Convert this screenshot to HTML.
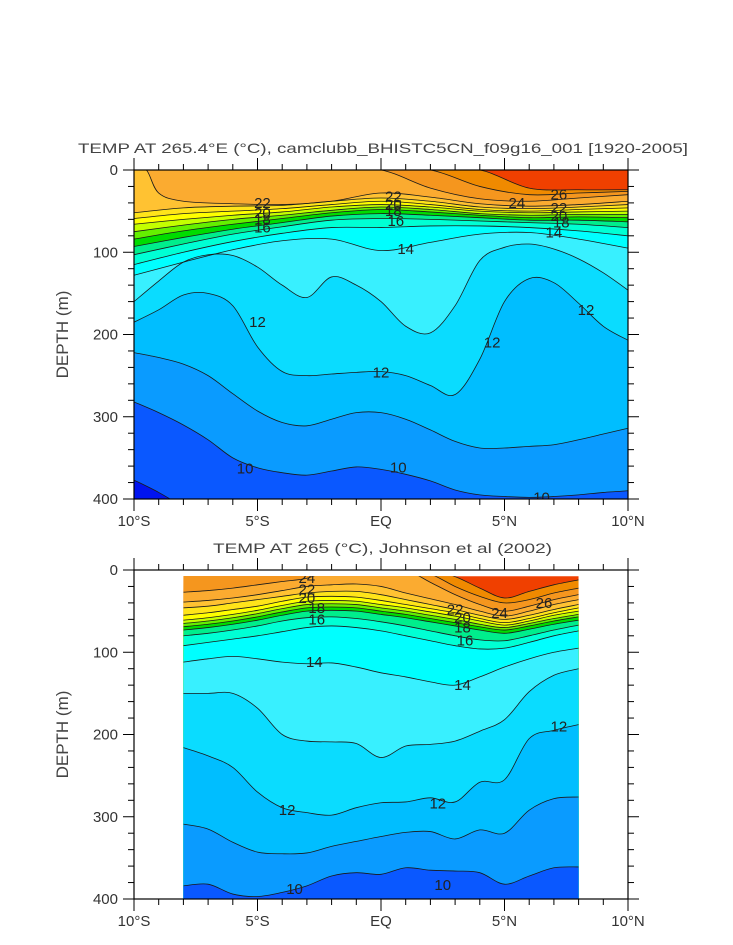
<!DOCTYPE html>
<html><head><meta charset="utf-8"><style>
html,body{margin:0;padding:0;background:#fff;}
svg{display:block;}
text{font-family:"Liberation Sans",sans-serif;}
</style></head><body>
<svg id="chart" width="733" height="945" viewBox="0 0 733 945" xmlns="http://www.w3.org/2000/svg">
<rect x="0" y="0" width="733" height="945" fill="#fff"/>
<g id="root"></g>
</svg>
<script>
// ---------- DATA ----------
const latsCoarse = [-10,-8,-6,-4,-2,0,2,4,6,8,10];
const latsFine = [-10,-9,-8,-7,-6,-5,-4,-3,-2,-1,0,1,2,3,4,5,6,7,8,9,10];
const latsT23 = [-10,-9.5,-9,-8,-6,-4,-2,0,2,4,6,8,10];
const latsObs = [-8,-7,-6,-5,-4,-3,-2,-1,0,1,2,3,4,5,6,7,8];

// Model panel isotherm depths (m)
const topT26 = [0,0,0,0,0,0,0,0,22,24,24];
const topT25 = [0,0,0,0,0,0,0,20,30,28,26];
const topT24 = [0,0,0,0,0,0,22,35,38,34,30];
const topT23 = [0,0,28,38,41,42,38,28,33,41,44,42,38];
const topT22 = [52,46,44,43,38,34,38,45,47,45,42];
const topT21 = [59,53,50,47,42,38,42,48,50,48,46];
const topT20 = [66,60,55,51,45,42,45,50,52,51,50];
const topT19 = [75,67,60,55,49,45,48,53,55,54,54];
const topT18 = [84,74,66,59,52,48,51,55,58,57,58];
const topT17 = [93,82,72,64,56,53,55,58,61,61,63];
const topT16 = [103,90,78,69,61,59,60,62,64,66,70];
const topT15 = [115,100,87,77,70,70,68,68,70,74,80];
const topT14 = [128,112,97,86,84,98,88,78,76,84,95];
const topT13 = [160,135,112,103,104,118,140,155,130,140,160,190,198,165,110,94,90,96,108,125,146];
const topT12 = [185,170,152,150,165,215,245,250,248,246,245,250,262,273,230,160,132,137,162,190,207];
const topT11 = [222,228,236,250,272,293,307,311,303,295,295,303,316,330,338,338,336,334,328,321,314];
const topT10 = [282,295,310,328,350,362,368,371,366,361,364,370,378,389,395,397,398,397,395,392,390];
const topT9 = [377,392,410,430,450,450,450,450,450,450,450,450,450,450,450,450,450,450,450,450,450];

// Observed panel isotherm depths (m)
const obsT26 = [0,0,0,0,0,0,0,0,0,0,0,8,22,34,26,18,12];
const obsT25 = [0,0,0,0,0,0,0,0,0,0,5,20,32,40,36,28,22];
const obsT24 = [27,25,22,18,14,10,0,0,0,0,15,30,42,50,44,36,30];
const obsT23 = [39,37,34,30,25,20,18,17,20,28,35,42,50,56,50,42,36];
const obsT22 = [46,44,40,36,32,28,26,26,30,36,42,48,55,60,55,48,42];
const obsT21 = [55,52,48,44,38,33,32,33,37,42,47,52,59,64,59,52,46];
const obsT20 = [61,58,54,49,43,38,37,38,42,46,51,56,62,67,62,55,50];
const obsT19 = [65,62,58,53,47,42,41,42,46,50,55,60,66,70,65,59,54];
const obsT18 = [69,66,62,57,51,46,45,46,50,54,59,64,69,73,68,62,57];
const obsT17 = [73,70,66,61,55,50,49,50,54,58,63,68,73,77,72,66,61];
const obsT16 = [80,77,73,68,62,58,57,59,63,68,74,80,85,86,80,73,67];
const obsT15 = [92,88,84,80,75,70,68,70,74,80,86,92,96,95,88,80,74];
const obsT14 = [112,108,105,108,112,114,113,118,125,130,136,140,130,118,108,100,95];
const obsT13 = [150,150,150,168,200,208,209,211,228,214,212,208,196,182,148,128,120];
const obsT12 = [216,226,240,270,289,295,298,289,283,282,277,282,258,255,205,195,188];
const obsT11 = [309,315,331,343,345,344,336,330,324,319,318,327,316,320,292,278,276];
const obsT10 = [384,382,394,397,392,384,372,368,370,362,365,366,368,382,372,362,361];

const topTemps = [26,25,24,23,22,21,20,19,18,17,16,15,14,13,12,11,10,9];
const obsTemps = [26,25,24,23,22,21,20,19,18,17,16,15,14,13,12,11,10];

// contour label positions [lat, depth, text]
const topLabelLats = [-4.8,-4.8,-4.8,-4.8,0.5,0.5,0.5,0.6,1.0,5.5,7.2,7.2,7.2,7.3,7.0,-5.0,0,4.5,8.3,-5.5,0.7,6.5];
const topLabelDeps = [40,52,60,70,32,42,50,62,96,40,30,46,56,64,76,185,246,210,170,363,362,398];
const topLabelTxt = ['22','20','18','16','22','20','18','16','14','24','26','22','20','18','14','12','12','12','12','10','10','10'];
const obsLabelLats = [-3.0,-3.0,-3.0,-2.6,-2.6,-2.7,3.0,3.3,3.3,3.4,4.8,6.6,-3.8,2.3,7.2,-3.5,2.5,3.3];
const obsLabelDeps = [10,24,34,46,60,112,48,58,70,86,52,40,292,284,190,388,383,140];
const obsLabelTxt = ['24','22','20','18','16','14','22','20','18','16','24','26','12','12','12','10','10','14'];

// ---------- COLORS / SCALES ----------
const bandColor = {26:'#f04000',25:'#f08a00',24:'#f5961e',23:'#fbab30',22:'#ffc232',21:'#ffe41a',20:'#ffff00',19:'#c4ff00',18:'#64f000',17:'#00dc00',16:'#00ee8c',15:'#00ffd4',14:'#00ffff',13:'#38f0ff',12:'#0adcff',11:'#00beff',10:'#0a9bff',9:'#0a58ff',8:'#0014f0'};

const NS='http://www.w3.org/2000/svg';
const root=document.getElementById('root');
function mk(tag,attrs,parent){const e=document.createElementNS(NS,tag);for(const k in attrs)e.setAttribute(k,attrs[k]);(parent||root).appendChild(e);return e;}

function makePanel(top){
  const x0=134,x1=628;
  return {x:lat=>x0+(lat+10)*(x1-x0)/20, y:d=>top+d*(329/400), x0:x0,x1:x1,y0:top,y1:top+329};
}
const P1=makePanel(170), P2=makePanel(570);

function crPath(pts){
  let d='M'+pts[0][0].toFixed(2)+','+pts[0][1].toFixed(2);
  for(let i=0;i<pts.length-1;i++){
    const p0=pts[Math.max(i-1,0)],p1=pts[i],p2=pts[i+1],p3=pts[Math.min(i+2,pts.length-1)];
    const c1x=p1[0]+(p2[0]-p0[0])/6,c1y=p1[1]+(p2[1]-p0[1])/6;
    const c2x=p2[0]-(p3[0]-p1[0])/6,c2y=p2[1]-(p3[1]-p1[1])/6;
    d+=' C'+c1x.toFixed(2)+','+c1y.toFixed(2)+' '+c2x.toFixed(2)+','+c2y.toFixed(2)+' '+p2[0].toFixed(2)+','+p2[1].toFixed(2);
  }
  return d;
}

function drawContours(P,clipId,cx0,cx1,cy0,isoList,temps,labelLats,labelDeps,labelTxt,prefix){
  const defs=mk('defs',{});
  const cp=mk('clipPath',{id:clipId},defs);
  mk('rect',{x:cx0,y:cy0,width:cx1-cx0,height:P.y1-cy0},cp);
  const g=mk('g',{'clip-path':'url(#'+clipId+')'});
  
  
  const bg=mk('rect',{x:cx0,y:cy0,width:cx1-cx0,height:P.y1-cy0,fill:bandColor[temps[0]]},g);
  
  
  const lines=[];
  isoList.forEach((iso,i)=>{
    const T=temps[i];
    const pts=iso.lats.map((la,j)=>[P.x(la),P.y(iso.d[j])]);
    const line=crPath(pts);
    const fp=line+' L'+(cx1+5)+','+(P.y1+5)+' L'+(cx0-5)+','+(P.y1+5)+' Z';
    const f=mk('path',{d:fp,fill:bandColor[T-1],stroke:'none'},g);
    
    
    lines.push([line,T]);
  });
  lines.forEach(([line,T])=>{
    const l=mk('path',{d:line,fill:'none',stroke:'#1a1a1a','stroke-width':'0.8'},g);
    
    
  });
  labelTxt.forEach((t,i)=>{
    const tx=mk('text',{x:P.x(labelLats[i]),y:P.y(labelDeps[i])+5,'font-size':'15','text-anchor':'middle',fill:'#222'},g);
    tx.textContent=t;
    
    
  });
}

function drawAxes(P,prefix,title,titleX,titleLen){
  const fr=mk('rect',{x:P.x0,y:P.y0,width:P.x1-P.x0,height:P.y1-P.y0,fill:'none',stroke:'#000','stroke-width':'1.2'});
  
  
  const g=mk('g',{stroke:'#000','stroke-width':'1'});
  
  
  for(let d=0;d<=400;d+=20){
    const L=(d%100===0)?11:6, y=P.y(d);
    mk('line',{x1:P.x0-L,y1:y,x2:P.x0,y2:y},g);
    mk('line',{x1:P.x1,y1:y,x2:P.x1+L,y2:y},g);
  }
  for(let la=-10;la<=10;la++){
    const L=(la%5===0)?12:6, x=P.x(la);
    mk('line',{x1:x,y1:P.y0-L,x2:x,y2:P.y0},g);
    mk('line',{x1:x,y1:P.y1,x2:x,y2:P.y1+L},g);
  }
  [0,100,200,300,400].forEach(d=>{
    const t=mk('text',{x:P.x0-16,y:P.y(d)+5,'font-size':'15','text-anchor':'end',fill:'#333'});
    t.textContent=d;
    
    
  });
  const xl=['10°S','5°S','EQ','5°N','10°N'];
  [-10,-5,0,5,10].forEach((la,i)=>{
    const t=mk('text',{x:P.x(la),y:P.y1+27,'font-size':'15','text-anchor':'middle',fill:'#333'});
    t.textContent=xl[i];
    
    
  });
  const yt=mk('text',{x:0,y:0,'font-size':'17','text-anchor':'middle',fill:'#444',transform:'translate(68,'+((P.y0+P.y1)/2)+') rotate(-90)'});
  yt.textContent='DEPTH (m)';
  
  
  const tt=mk('text',{x:titleX,y:P.y0-17,'font-size':'14',fill:'#444',textLength:titleLen,lengthAdjust:'spacingAndGlyphs'});
  tt.textContent=title;
  
  
}

const topIso=[topT26,topT25,topT24].map(d=>({lats:latsCoarse,d:d}))
  .concat([{lats:latsT23,d:topT23}])
  .concat([topT22,topT21,topT20,topT19,topT18,topT17,topT16,topT15,topT14].map(d=>({lats:latsCoarse,d:d})))
  .concat([topT13,topT12,topT11,topT10,topT9].map(d=>({lats:latsFine,d:d})));
const obsIso=[obsT26,obsT25,obsT24,obsT23,obsT22,obsT21,obsT20,obsT19,obsT18,obsT17,obsT16,obsT15,obsT14,obsT13,obsT12,obsT11,obsT10].map(d=>({lats:latsObs,d:d}));

drawContours(P1,'clipTop',P1.x0,P1.x1,P1.y0,topIso,topTemps,topLabelLats,topLabelDeps,topLabelTxt,'model');
drawContours(P2,'clipObs',P2.x(-8),P2.x(8),P2.y(7.5),obsIso,obsTemps,obsLabelLats,obsLabelDeps,obsLabelTxt,'obs');
drawAxes(P1,'model','TEMP AT 265.4°E (°C), camclubb_BHISTC5CN_f09g16_001 [1920-2005]',78,610);
drawAxes(P2,'obs','TEMP AT 265 (°C), Johnson et al (2002)',213,339);
</script>
</body></html>
